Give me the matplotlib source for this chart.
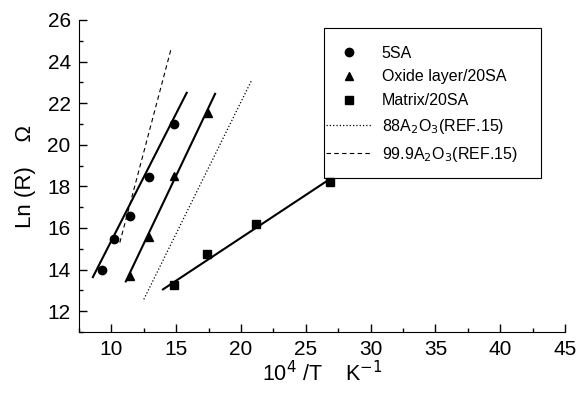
import matplotlib
matplotlib.use("Agg")
import matplotlib.pyplot as plt
from matplotlib.patches import Rectangle
from matplotlib.ticker import MultipleLocator

plt.rcParams['font.family'] = ['Liberation Sans', 'DejaVu Sans']

# measured points
sa5_x = [9.25, 10.2, 11.4, 12.9, 14.8]
sa5_y = [14.0, 15.45, 16.57, 18.47, 21.0]
oxide_x = [11.42, 12.91, 14.81, 17.49]
oxide_y = [13.68, 15.57, 18.52, 21.54]
matrix_x = [14.8, 17.41, 21.13, 26.85]
matrix_y = [13.24, 14.77, 16.19, 18.22]

# fitted lines (end points)
sa5_fit_x = [8.57, 15.81]
sa5_fit_y = [13.64, 22.5]
oxide_fit_x = [11.11, 18.0]
oxide_fit_y = [13.43, 22.45]
matrix_fit_x = [13.98, 26.85]
matrix_fit_y = [13.05, 18.35]

# reference lines
ref88_x = [12.5, 20.85]
ref88_y = [12.57, 23.14]
ref999_x = [10.65, 14.6]
ref999_y = [15.3, 24.6]

fig = plt.figure(figsize=(5.78, 3.96), dpi=100)
ax = fig.add_axes([79 / 578, 1 - 332 / 396, (565 - 79) / 578, (332 - 20) / 396])

ax.plot(sa5_x, sa5_y, 'o', color='black', ms=6, label='5SA')
ax.plot(oxide_x, oxide_y, '^', color='black', ms=6, label='Oxide layer/20SA')
ax.plot(matrix_x, matrix_y, 's', color='black', ms=5.5, label='Matrix/20SA')
ax.plot(ref88_x, ref88_y, ':', color='black', lw=0.9, label='88A$_2$O$_3$(REF.15)')
ax.plot(ref999_x, ref999_y, '--', color='black', lw=0.8, dashes=(4, 3),
        label='99.9A$_2$O$_3$(REF.15)')

ax.plot(sa5_fit_x, sa5_fit_y, '-', color='black', lw=1.5)
ax.plot(oxide_fit_x, oxide_fit_y, '-', color='black', lw=1.5)
ax.plot(matrix_fit_x, matrix_fit_y, '-', color='black', lw=1.5)

ax.set_xlim(7.5, 45)
ax.set_ylim(11, 26)
ax.xaxis.set_major_locator(MultipleLocator(5))
ax.xaxis.set_minor_locator(MultipleLocator(2.5))
ax.yaxis.set_major_locator(MultipleLocator(2))
ax.yaxis.set_minor_locator(MultipleLocator(1))
ax.tick_params(which='both', direction='in', labelsize=15, width=1)
ax.tick_params(which='major', length=6, pad=6)
ax.tick_params(which='minor', length=3)
ax.spines['top'].set_visible(False)
ax.spines['right'].set_visible(False)

ax.set_xlabel('10$^4$ /T    K$^{-1}$', fontsize=15.5, labelpad=1)
ax.set_ylabel('Ln (R)    Ω', fontsize=16, labelpad=8)

# legend box drawn separately (wide vertical padding, handles touching left edge)
box = Rectangle((0.504, 0.4946), 0.447, 0.4804, transform=ax.transAxes,
                facecolor='white', edgecolor='black', lw=0.8, zorder=1)
ax.add_patch(box)
leg = ax.legend(loc='upper left', bbox_to_anchor=(0.508, 0.918),
                fontsize=11.5, frameon=False,
                handlelength=2.9, handletextpad=0.6, labelspacing=0.55,
                borderpad=0, borderaxespad=0)
leg.set_zorder(5)

fig.savefig('out.png', dpi=100)
